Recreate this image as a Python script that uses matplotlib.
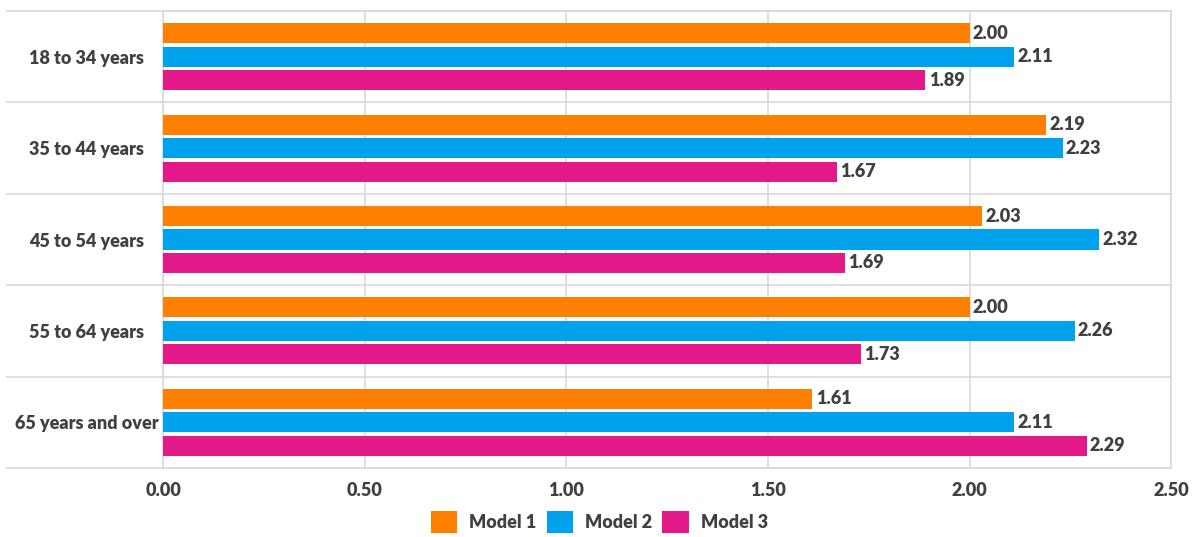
import matplotlib.pyplot as plt
import numpy as np

# Data
categories = ['18 to 34 years', '35 to 44 years', '45 to 54 years', '55 to 64 years', '65 years and over']
series_names = ['Model 1', 'Model 2', 'Model 3']
model1 = [2.00, 2.19, 2.03, 2.00, 1.61]
model2 = [2.11, 2.23, 2.32, 2.26, 2.11]
model3 = [1.89, 1.67, 1.69, 1.73, 2.29]
x_ticks = [0.0, 0.5, 1.0, 1.5, 2.0, 2.5]

colors = ['#FF8000', '#00A2EE', '#E3198A']
text_color = '#404040'
grid_color = '#D9D9D9'
fs = 13
wt = 'heavy'

plt.rcParams['font.family'] = ['Lato', 'DejaVu Sans']
plt.rcParams['font.weight'] = wt

fig = plt.figure(figsize=(11.99, 5.37), dpi=100)
ax = fig.add_axes([0.136, 0.1285, 0.841, 0.851])

y = np.arange(len(categories))
bar_h = 0.22
step = 0.257
all_series = [model1, model2, model3]
for i, (vals, name, c) in enumerate(zip(all_series, series_names, colors)):
    pos = y + (i - 1) * step
    bars = ax.barh(pos, vals, height=bar_h, color=c, label=name, zorder=3)
    for b, v in zip(bars, vals):
        ax.text(v + 0.008, b.get_y() + b.get_height() / 2, f'{v:.2f}',
                va='center', ha='left', fontsize=fs, fontweight=wt,
                color=text_color, zorder=4)

ax.set_xlim(0, 2.5)
ax.set_ylim(len(categories) - 0.5, -0.5)
ax.set_xticks(x_ticks)
ax.set_xticklabels([f'{t:.2f}' for t in x_ticks])
ax.set_yticks(y)
# category labels are centred in the label column, like Excel does
ax.set_yticklabels(categories, ha='center')
ax.tick_params(axis='both', length=0, labelsize=fs, labelcolor=text_color)
ax.tick_params(axis='x', pad=10)
ax.tick_params(axis='y', pad=55)
ax.xaxis.grid(True, color=grid_color, linewidth=1.2, zorder=0)

for s in ax.spines.values():
    s.set_color(grid_color)
    s.set_linewidth(1.2)

# category separators extending under the labels
trans = ax.get_yaxis_transform()
for b in np.arange(-0.5, len(categories), 1.0):
    ax.plot([-0.155, 1], [b, b], transform=trans, color=grid_color,
            linewidth=1.2, clip_on=False, zorder=1)

fig.legend(loc='center', bbox_to_anchor=(0.5, 0.028), ncol=3, frameon=False,
           fontsize=fs, handlelength=1.45, handleheight=1.45, handletextpad=0.7,
           columnspacing=0.55, labelcolor=text_color)

fig.savefig('out.png', dpi=100)
